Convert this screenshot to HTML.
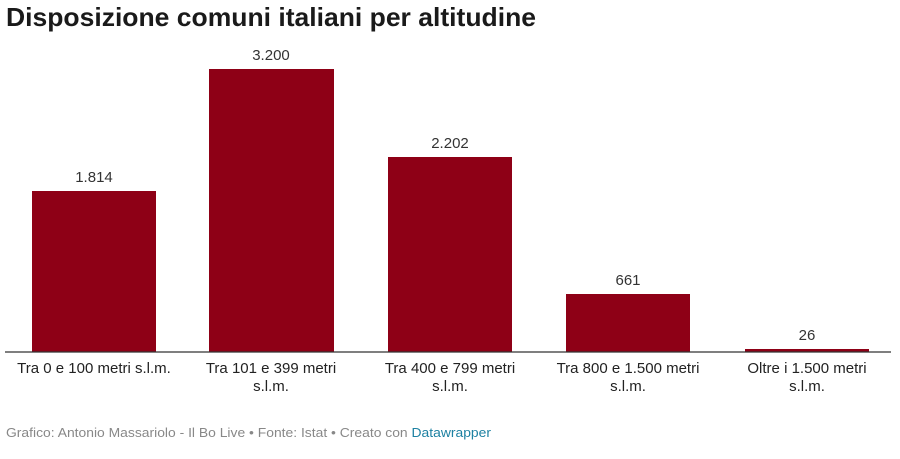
<!DOCTYPE html>
<html><head><meta charset="utf-8"><style>
html,body{margin:0;padding:0;background:#fff;}
svg{display:block;font-family:"Liberation Sans",sans-serif;}
</style></head><body>
<svg width="900" height="459" viewBox="0 0 900 459" xmlns="http://www.w3.org/2000/svg">
<text x="6" y="26" font-size="26" font-weight="bold" fill="#1a1a1a" textLength="530" lengthAdjust="spacingAndGlyphs">Disposizione comuni italiani per altitudine</text>
<g fill="#8e0016">
<rect x="32" y="191" width="124" height="161"/>
<rect x="209" y="69" width="125" height="283"/>
<rect x="388" y="157" width="124" height="195"/>
<rect x="566" y="294" width="124" height="58"/>
<rect x="745" y="349" width="124" height="3"/>
</g>
<line x1="5" y1="352" x2="891" y2="352" stroke="#333" stroke-width="1.2"/>
<g font-size="15" fill="#333" text-anchor="middle">
<text x="94" y="182">1.814</text>
<text x="271" y="60">3.200</text>
<text x="450" y="148">2.202</text>
<text x="628" y="285">661</text>
<text x="807" y="340">26</text>
</g>
<g font-size="15" fill="#222" text-anchor="middle">
<text x="94" y="373">Tra 0 e 100 metri s.l.m.</text>
<text x="271" y="373">Tra 101 e 399 metri</text>
<text x="271" y="391">s.l.m.</text>
<text x="450" y="373">Tra 400 e 799 metri</text>
<text x="450" y="391">s.l.m.</text>
<text x="628" y="373">Tra 800 e 1.500 metri</text>
<text x="628" y="391">s.l.m.</text>
<text x="807" y="373">Oltre i 1.500 metri</text>
<text x="807" y="391">s.l.m.</text>
</g>
<text x="6" y="437" font-size="13" fill="#888" textLength="485" lengthAdjust="spacingAndGlyphs">Grafico: Antonio Massariolo - Il Bo Live • Fonte: Istat • Creato con <tspan fill="#1d81a2">Datawrapper</tspan></text>
</svg>
</body></html>
